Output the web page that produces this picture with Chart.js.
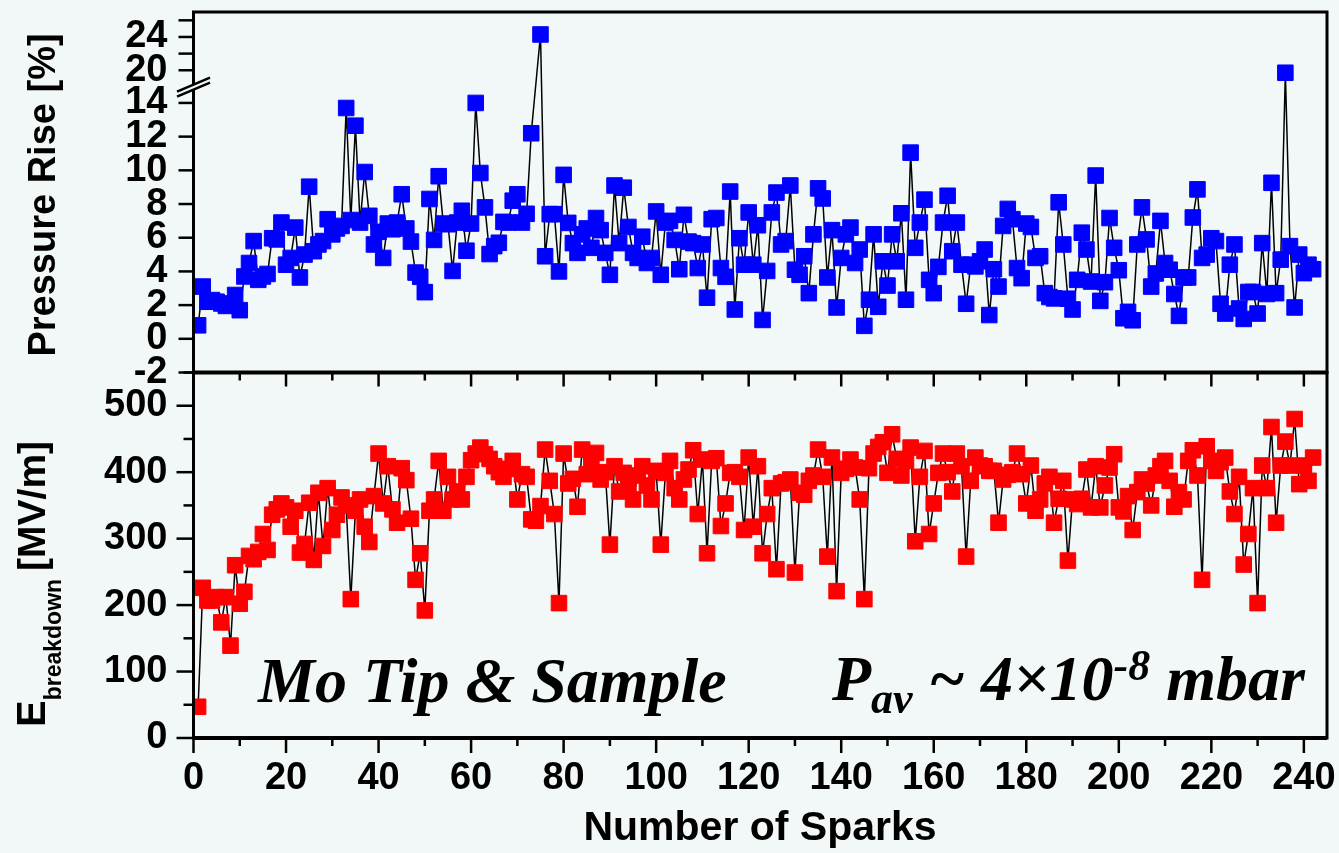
<!DOCTYPE html>
<html>
<head>
<meta charset="utf-8">
<script src="https://cdn.jsdelivr.net/npm/chart.js@4.4.1/dist/chart.umd.min.js"></script>
<style>
  html, body { margin: 0; padding: 0; background: #f2f7f7; }
  #wrap { position: relative; width: 1339px; height: 853px; }
  canvas { position: absolute; left: 0; top: 0; }
</style>
</head>
<body>
<div id="wrap">
  <canvas id="fieldChart" width="1339" height="853"></canvas>
  <canvas id="pressureChart" width="1339" height="853"></canvas>
</div>
<script>
// pressure rise [%] per spark (spark 74 sits inside the axis break)
const pressureRise = [
  0.8, 3.1, 2.2, 2.3, 2.2, 2.1, 1.95, 2.0, 2.6, 1.7,
  3.7, 4.5, 5.8, 3.5, 3.7, 3.85, 5.97, 5.9, 6.9, 4.4,
  4.8, 6.6, 3.64, 5.0, 9.03, 5.2, 5.6, 5.8, 7.1, 6.2,
  6.55, 6.7, 13.7, 7.05, 12.65, 6.9, 9.9, 7.3, 5.6, 6.35,
  4.8, 6.84, 6.5, 6.9, 8.58, 6.55, 5.77, 3.93, 3.68, 2.77,
  8.3, 5.87, 9.65, 6.84, 6.8, 4.03, 6.9, 7.6, 5.23, 6.84,
  14.0, 9.84, 7.8, 5.03, 5.5, 5.7, 6.94, 6.9, 8.2, 8.58,
  6.9, 7.42, 12.2, null, 24.3, 4.9, 7.4, 7.4, 4.0, 9.73,
  6.88, 5.68, 5.1, 6.2, 6.55, 5.4, 7.17, 6.45, 5.1, 3.8,
  9.1, 5.68, 8.97, 6.64, 5.1, 4.8, 6.06, 4.5, 4.8, 7.56,
  3.8, 6.9, 7.0, 5.87, 4.13, 7.36, 5.77, 5.68, 4.2, 5.6,
  2.44, 7.1, 7.17, 4.2, 3.68, 8.74, 1.74, 5.97, 4.4, 7.5,
  4.4, 6.74, 1.12, 4.03, 7.5, 8.68, 5.6, 5.8, 9.1, 4.1,
  3.8, 4.9, 2.71, 6.2, 8.93, 8.33, 3.64, 6.45, 1.86, 4.8,
  6.2, 6.6, 4.5, 5.3, 0.77, 2.32, 6.2, 1.9, 4.6, 3.16,
  6.2, 4.6, 7.45, 2.32, 11.05, 5.4, 6.9, 8.26, 3.5, 2.71,
  4.27, 6.9, 8.49, 5.2, 6.9, 4.4, 2.08, 4.4, 4.3, 4.6,
  5.3, 1.41, 4.13, 3.1, 6.7, 7.71, 7.1, 4.2, 3.6, 6.84,
  6.64, 4.8, 4.9, 2.71, 2.48, 2.4, 8.1, 5.6, 2.38, 1.74,
  3.5, 6.3, 5.3, 3.4, 9.69, 2.25, 3.36, 7.17, 5.4, 4.07,
  1.22, 1.6, 1.1, 5.6, 7.8, 5.9, 3.1, 3.88, 7.0, 4.5,
  4.1, 2.66, 1.36, 3.64, 3.64, 7.2, 8.87, 4.8, 5.0, 5.97,
  5.8, 2.08, 1.5, 4.4, 5.6, 1.8, 1.18, 2.78, 2.78, 1.5,
  5.68, 2.66, 9.26, 2.71, 4.7, 19.7, 5.5, 1.86, 5.0, 3.9,
  4.4, 4.13
];

// breakdown field [MV/m] per spark
const breakdownField = [
  47, 226, 207, 207, 212, 174, 212, 139, 260, 202,
  220, 274, 269, 280, 307, 283, 336, 344, 353, 347,
  318, 342, 279, 292, 354, 268, 369, 289, 376, 313,
  336, 362, 350, 209, 342, 359, 318, 295, 364, 428,
  353, 409, 344, 324, 406, 388, 330, 238, 278, 192,
  342, 359, 417, 342, 393, 359, 371, 359, 393, 418,
  428, 437, 427, 420, 409, 400, 393, 405, 417, 359,
  397, 393, 329, 327, 349, 434, 387, 337, 203, 428,
  383, 390, 348, 434, 397, 410, 429, 389, 400, 291,
  409, 371, 399, 380, 359, 395, 409, 380, 359, 402,
  291, 399, 417, 376, 359, 389, 404, 433, 337, 419,
  278, 417, 421, 319, 353, 399, 400, 393, 313, 422,
  318, 409, 278, 337, 376, 254, 383, 385, 389, 249,
  369, 366, 387, 395, 434, 393, 273, 422, 221, 399,
  405, 419, 407, 359, 209, 406, 428, 438, 445, 399,
  457, 420, 395, 417, 437, 296, 393, 432, 307, 353,
  399, 428, 400, 371, 428, 409, 273, 387, 422, 410,
  409, 402, 402, 324, 389, 396, 400, 428, 397, 353,
  410, 342, 359, 383, 393, 324, 360, 387, 267, 359,
  352, 360, 404, 347, 409, 347, 380, 407, 427, 347,
  341, 364, 313, 370, 389, 383, 350, 395, 409, 417,
  387, 348, 370, 359, 417, 433, 395, 238, 439, 417,
  402, 415, 422, 371, 337, 393, 261, 307, 376, 203,
  410, 376, 468, 324, 410, 446, 410, 480, 382, 410,
  387, 422
];

const pressureTicks = [-2, 0, 2, 4, 6, 8, 10, 12, 14, 20, 22, 24, 26];
const pressureTickLabels = ['-2', '0', '2', '4', '6', '8', '10', '12', '14', '20', '', '24', ''];
const fieldTicks = [0, 50, 100, 150, 200, 250, 300, 350, 400, 450, 500, 550];
const fieldTickLabels = ['0', '', '100', '', '200', '', '300', '', '400', '', '500', ''];
const sparkTicks = [0, 10, 20, 30, 40, 50, 60, 70, 80, 90, 100, 110, 120, 130, 140, 150,
  160, 170, 180, 190, 200, 210, 220, 230, 240];
const sparkTickLabels = ['0', '', '20', '', '40', '', '60', '', '80', '', '100', '', '120', '',
  '140', '', '160', '', '180', '', '200', '', '220', '', '240'];

// axis break of the pressure panel: 15.1 .. 18.3 is cut out, upper part is compressed
const breakLow = 15.1;
const breakHigh = 18.3;
const upperScale = 0.494;
function squeeze(v) {
  if (v === null) return null;
  return v <= breakLow ? v : breakLow + (v - breakHigh) * upperScale;
}

const BG = '#f2f7f7';
const SANS = '"Liberation Sans", Arial, sans-serif';
const SERIF = '"Liberation Serif", "Times New Roman", serif';
const tickFont = { family: SANS, size: 38, weight: 'bold' };
const plotLeft = 193.5;

function line(ctx, x1, y1, x2, y2) {
  ctx.beginPath();
  ctx.moveTo(x1, y1);
  ctx.lineTo(x2, y2);
  ctx.stroke();
}

// keep the plot areas where they are: no extra room for edge labels
function fixYAxis(s) {
  s.width = plotLeft;
  s.paddingTop = 0;
  s.paddingBottom = 0;
}

const pressureDecor = {
  id: 'pressureDecor',
  afterDraw(chart) {
    const { ctx, chartArea: a } = chart;
    const ys = chart.scales.y;
    ctx.save();
    ctx.strokeStyle = '#000';
    ctx.lineWidth = 3;
    ctx.strokeRect(a.left, a.top, a.right - a.left, a.bottom - a.top);

    ctx.lineWidth = 2.5;
    pressureTicks.forEach(v => {
      const y = ys.getPixelForValue(squeeze(v));
      line(ctx, a.left - 15, y, a.left, y);
    });

    // break marks on the left axis
    const yb = (ys.getPixelForValue(squeeze(14)) + ys.getPixelForValue(squeeze(20))) / 2;
    ctx.fillStyle = BG;
    ctx.beginPath();
    ctx.moveTo(177, yb + 5);
    ctx.lineTo(210, yb - 9);
    ctx.lineTo(210, yb - 4);
    ctx.lineTo(177, yb + 10);
    ctx.closePath();
    ctx.fill();
    ctx.lineWidth = 2.5;
    line(ctx, 177, yb + 5, 210, yb - 9);
    line(ctx, 177, yb + 10, 210, yb - 4);

    // axis title
    ctx.translate(55, 195);
    ctx.rotate(-Math.PI / 2);
    ctx.fillStyle = '#000';
    ctx.font = 'bold 38px ' + SANS;
    ctx.textAlign = 'center';
    ctx.textBaseline = 'alphabetic';
    ctx.fillText('Pressure Rise [%]', 0, 0);
    ctx.restore();
  }
};

const fieldDecor = {
  id: 'fieldDecor',
  afterDraw(chart) {
    const { ctx, chartArea: a } = chart;
    const xs = chart.scales.x;
    const ys = chart.scales.y;
    ctx.save();
    ctx.strokeStyle = '#000';
    ctx.lineWidth = 3;
    ctx.strokeRect(a.left, a.top, a.right - a.left, a.bottom - a.top);
    ctx.lineWidth = 4;
    line(ctx, a.left, a.top, a.right, a.top);
    line(ctx, a.left, a.bottom, a.right, a.bottom);

    ctx.lineWidth = 2.5;
    fieldTicks.forEach(v => {
      const y = ys.getPixelForValue(v);
      const len = v % 100 === 0 ? 17 : 10;
      line(ctx, a.left - len, y, a.left, y);
    });
    sparkTicks.forEach(v => {
      const x = xs.getPixelForValue(v);
      const major = v % 20 === 0;
      line(ctx, x, a.bottom, x, a.bottom + (major ? 15 : 8));
      line(ctx, x, a.top, x, a.top + (major ? 14 : 8));
    });

    ctx.fillStyle = '#000';
    ctx.textBaseline = 'alphabetic';

    // x title
    ctx.font = 'bold 41px ' + SANS;
    ctx.textAlign = 'center';
    ctx.fillText('Number of Sparks', 760, 840);

    // annotations
    ctx.textAlign = 'left';
    const big = 'italic bold 64px ' + SERIF;
    const small = 'italic bold 44px ' + SERIF;
    ctx.font = big;
    ctx.fillText('Mo Tip & Sample', 258, 702);

    let x = 832;
    const parts = [
      ['P', big, 0],
      ['av', small, 13],
      [' ~ 4\u00d710', big, 0],
      ['-8', small, -20],
      [' mbar', big, 0]
    ];
    parts.forEach(([txt, font, dy]) => {
      ctx.font = font;
      ctx.fillText(txt, x, 700 + dy);
      x += ctx.measureText(txt).width;
    });

    // y title with subscript
    ctx.translate(45, 727);
    ctx.rotate(-Math.PI / 2);
    ctx.font = 'bold 40px ' + SANS;
    ctx.fillText('E', 0, 0);
    let tx = ctx.measureText('E').width;
    ctx.font = 'bold 23px ' + SANS;
    ctx.fillText('breakdown', tx, 16);
    tx += ctx.measureText('breakdown').width + 8;
    ctx.font = 'bold 39px ' + SANS;
    ctx.fillText('[MV/m]', tx, 0);
    ctx.restore();
  }
};

function seriesPoints(values) {
  return values.map((v, i) => ({ x: i + 1, y: v }));
}

const xRange = { type: 'linear', min: 0, max: 245 };

new Chart(document.getElementById('pressureChart'), {
  type: 'line',
  data: {
    datasets: [{
      data: seriesPoints(pressureRise.map(squeeze)),
      borderColor: '#000',
      borderWidth: 1.5,
      pointStyle: 'rect',
      pointRadius: 11,
      pointBackgroundColor: '#0000ff',
      pointBorderColor: '#0000ff',
      pointBorderWidth: 1,
      spanGaps: true,
      tension: 0
    }]
  },
  options: {
    responsive: false,
    animation: false,
    devicePixelRatio: 1,
    layout: { padding: { left: 0, right: 12, top: 7, bottom: 480.5 } },
    plugins: { legend: { display: false }, tooltip: { enabled: false } },
    scales: {
      x: { ...xRange, display: false },
      y: {
        min: -2,
        max: squeeze(27),
        afterBuildTicks: s => { s.ticks = pressureTicks.map(v => ({ value: squeeze(v) })); },
        afterFit: fixYAxis,
        grid: { display: false, drawTicks: false },
        border: { display: false },
        ticks: {
          autoSkip: false,
          padding: 26,
          color: '#000',
          font: tickFont,
          callback: (v, i) => pressureTickLabels[i]
        }
      }
    }
  },
  plugins: [pressureDecor]
});

new Chart(document.getElementById('fieldChart'), {
  type: 'line',
  data: {
    datasets: [{
      data: seriesPoints(breakdownField),
      borderColor: '#000',
      borderWidth: 1.5,
      pointStyle: 'rect',
      pointRadius: 11,
      pointBackgroundColor: '#ff0000',
      pointBorderColor: '#ff0000',
      pointBorderWidth: 1,
      tension: 0
    }]
  },
  options: {
    responsive: false,
    animation: false,
    devicePixelRatio: 1,
    layout: { padding: { left: 0, right: 12, top: 372.5, bottom: 0 } },
    plugins: { legend: { display: false }, tooltip: { enabled: false } },
    scales: {
      x: {
        ...xRange,
        afterBuildTicks: s => { s.ticks = sparkTicks.map(v => ({ value: v })); },
        afterFit: s => { s.height = 115; s.paddingLeft = 0; s.paddingRight = 0; },
        grid: { display: false, drawTicks: false },
        border: { display: false },
        ticks: {
          autoSkip: false,
          maxRotation: 0,
          padding: 18,
          color: '#000',
          font: tickFont,
          callback: (v, i) => sparkTickLabels[i]
        }
      },
      y: {
        min: 0,
        max: 550,
        afterBuildTicks: s => { s.ticks = fieldTicks.map(v => ({ value: v })); },
        afterFit: fixYAxis,
        grid: { display: false, drawTicks: false },
        border: { display: false },
        ticks: {
          autoSkip: false,
          padding: 26,
          color: '#000',
          font: tickFont,
          callback: (v, i) => fieldTickLabels[i]
        }
      }
    }
  },
  plugins: [fieldDecor]
});
</script>
</body>
</html>
